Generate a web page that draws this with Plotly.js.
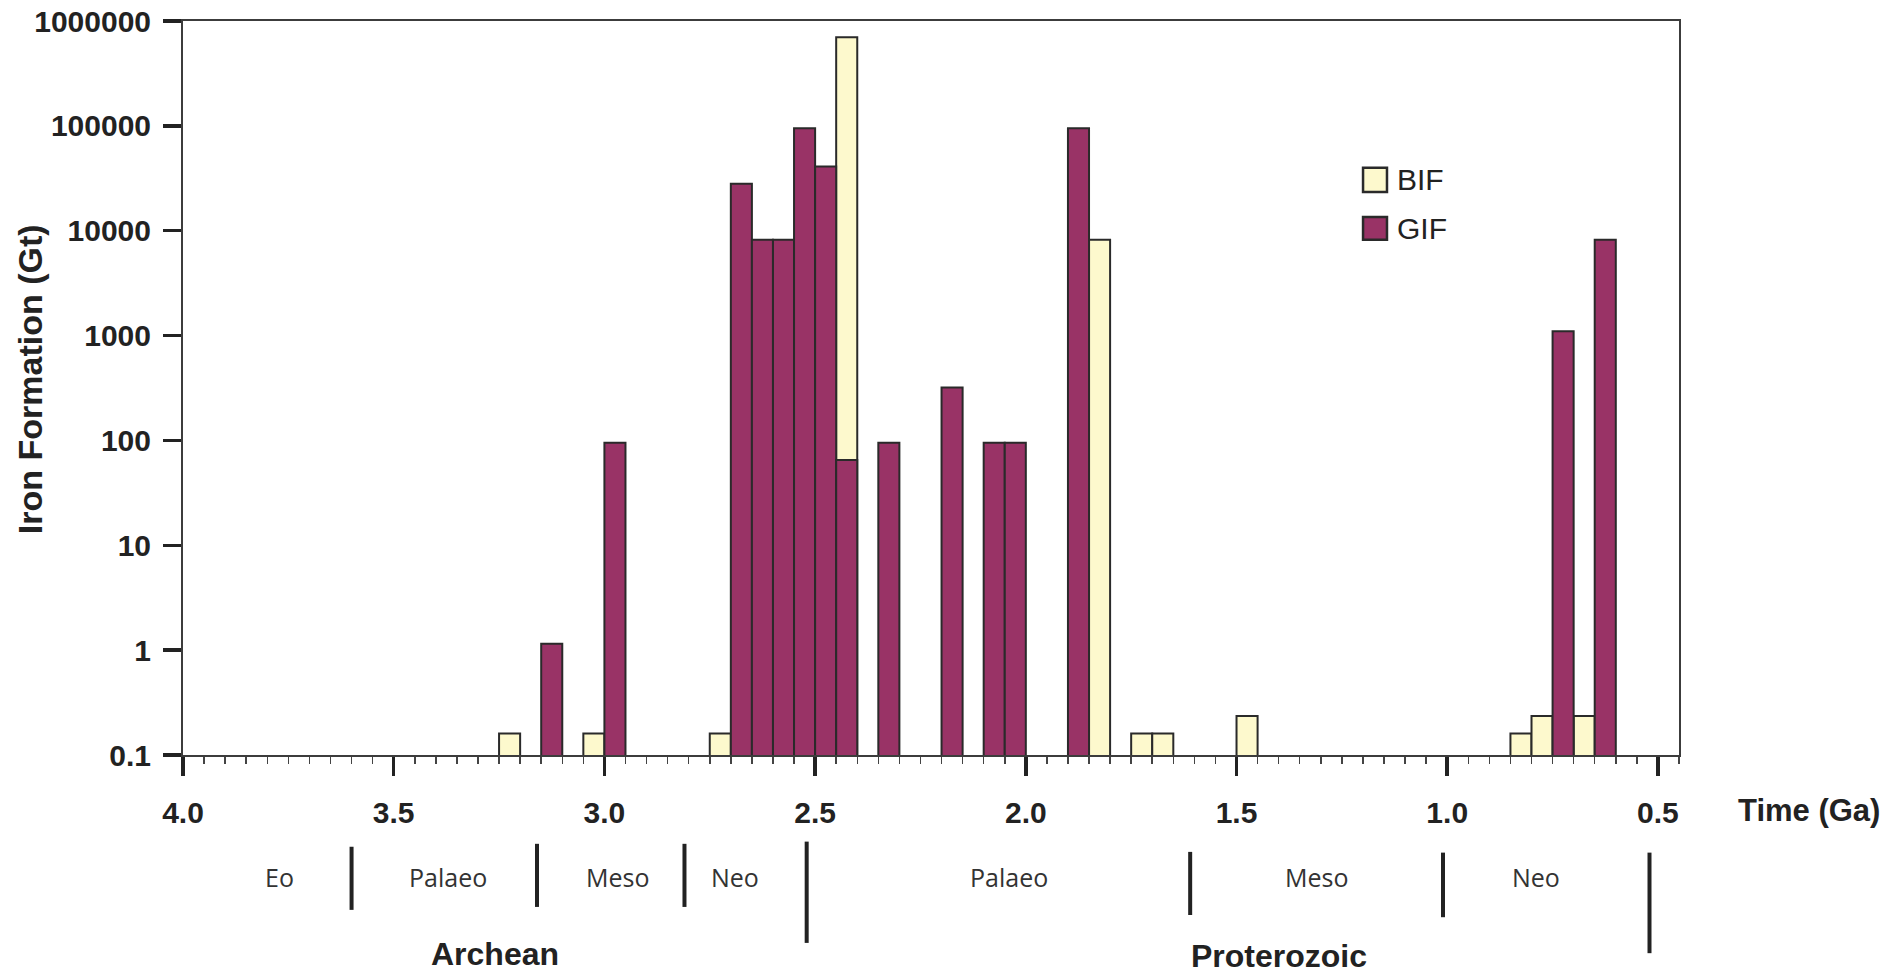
<!DOCTYPE html>
<html>
<head>
<meta charset="utf-8">
<script src="https://cdn.plot.ly/plotly-3.0.1.min.js"></script>
<style>
  html, body { margin: 0; padding: 0; background: #ffffff; }
  #chart { width: 1887px; height: 977px; }
</style>
</head>
<body>
<div id="chart"></div>
<script>
// ---- Data ----
// Bin centres in Ga (each bin is 0.05 Ga wide)
const bifAge = [3.225, 3.025, 2.725, 2.425, 1.825, 1.725, 1.675, 1.475, 0.825, 0.775, 0.675];
const bifGt  = [0.16, 0.16, 0.16, 700000, 8200, 0.16, 0.16, 0.235, 0.16, 0.235, 0.235];

const gifAge = [3.125, 2.975, 2.675, 2.625, 2.575, 2.525, 2.475, 2.425, 2.325, 2.175, 2.075, 2.025, 1.875, 0.725, 0.625];
const gifGt  = [1.15, 95, 28000, 8200, 8200, 95000, 41000, 65, 95, 320, 95, 95, 95000, 1100, 8200];

const seriesNames = ['BIF', 'GIF'];

const xTickVals = [4.0, 3.5, 3.0, 2.5, 2.0, 1.5, 1.0, 0.5];
const xTickText = ['4.0', '3.5', '3.0', '2.5', '2.0', '1.5', '1.0', '0.5'];
const yTickVals = [0.1, 1, 10, 100, 1000, 10000, 100000, 1000000];
const yTickText = ['0.1', '1', '10', '100', '1000', '10000', '100000', '1000000'];

// Geological time divisions (Ga)
const eraBoundaries = [3.6, 3.16, 2.81, 2.52, 1.61, 1.01, 0.52];
const eraNames = ['Eo', 'Palaeo', 'Meso', 'Neo', 'Palaeo', 'Meso', 'Neo'];
const eraMid   = [3.77, 3.37, 2.97, 2.69, 2.04, 1.31, 0.79];
const eonNames = ['Archean', 'Proterozoic'];
const eonMid   = [3.26, 1.40];

// ---- Styling ----
const BIF_COLOR = '#fdf9cd';
const GIF_COLOR = '#993366';
const EDGE = '#2a2a2a';
const BOLD_FONT = 'Liberation Sans, Arial, Helvetica, sans-serif';
const BIN_WIDTH = 0.05;

const traces = [
  {
    type: 'bar', name: seriesNames[0], x: bifAge, y: bifGt, width: BIN_WIDTH,
    marker: { color: BIF_COLOR, line: { color: EDGE, width: 2 } },
    showlegend: false, hoverinfo: 'x+y+name'
  },
  {
    type: 'bar', name: seriesNames[1], x: gifAge, y: gifGt, width: BIN_WIDTH,
    marker: { color: GIF_COLOR, line: { color: EDGE, width: 2 } },
    showlegend: false, hoverinfo: 'x+y+name'
  }
];

const shapes = [];
const annotations = [];

// Era separator bars below the axis (long bars at eon boundaries)
const sepExtent = {
  3.6:  [-0.125, -0.211],
  3.16: [-0.121, -0.207],
  2.81: [-0.121, -0.207],
  2.52: [-0.118, -0.256],
  1.61: [-0.132, -0.218],
  1.01: [-0.133, -0.221],
  0.52: [-0.133, -0.270]
};
eraBoundaries.forEach(b => {
  const ext = sepExtent[b];
  shapes.push({
    type: 'line', xref: 'x', yref: 'paper', x0: b, x1: b, y0: ext[0], y1: ext[1],
    line: { color: '#222', width: 4 }
  });
});

eraNames.forEach((n, i) => {
  annotations.push({
    text: n, xref: 'x', yref: 'paper', x: eraMid[i], y: -0.166,
    xanchor: 'center', yanchor: 'middle', showarrow: false,
    font: { family: 'Open Sans, Noto Sans, sans-serif', size: 25, color: '#333' }
  });
});

eonNames.forEach((n, i) => {
  annotations.push({
    text: n, xref: 'x', yref: 'paper', x: eonMid[i], y: i === 0 ? -0.2715 : -0.2735,
    xanchor: 'center', yanchor: 'middle', showarrow: false, borderpad: 0,
    font: { family: BOLD_FONT, size: 32, weight: 'bold', color: '#222' }
  });
});

// Axis titles
annotations.push({
  text: 'Iron Formation (Gt)', xref: 'paper', yref: 'paper', x: -0.1023, y: 0.512,
  xanchor: 'center', yanchor: 'middle', textangle: -90, showarrow: false,
  font: { family: BOLD_FONT, size: 34, weight: 'bold', color: '#222' }
});
annotations.push({
  text: 'Time (Ga)', xref: 'paper', yref: 'paper', x: 1.038, y: -0.075,
  xanchor: 'left', yanchor: 'middle', showarrow: false,
  font: { family: BOLD_FONT, size: 31, weight: 'bold', color: '#222' }
});

// Legend (drawn box + label, matching the reference's large square keys)
const legendColors = [BIF_COLOR, GIF_COLOR];
const legendY = [[0.767, 0.800], [0.702, 0.733]];
seriesNames.forEach((n, i) => {
  shapes.push({
    type: 'rect', xref: 'paper', yref: 'paper', x0: 0.7888, x1: 0.8048,
    y0: legendY[i][0], y1: legendY[i][1],
    fillcolor: legendColors[i], line: { color: EDGE, width: 2.5 }
  });
  annotations.push({
    text: n, xref: 'paper', yref: 'paper', x: 0.8100, y: (legendY[i][0] + legendY[i][1]) / 2,
    xanchor: 'left', yanchor: 'middle', showarrow: false,
    font: { family: 'Liberation Sans, Arial, sans-serif', size: 30, color: '#222' }
  });
});

const layout = {
  width: 1887, height: 977,
  margin: { l: 183, r: 208, t: 21, b: 222, pad: 0 },
  paper_bgcolor: '#ffffff', plot_bgcolor: '#ffffff',
  barmode: 'overlay',
  showlegend: false,
  xaxis: {
    range: [4.0, 0.45],
    tickmode: 'array', tickvals: xTickVals, ticktext: xTickText,
    ticks: 'outside', ticklen: 19, tickwidth: 3.5, tickcolor: '#222',
    ticklabelstandoff: 11,
    minor: { tickmode: 'linear', tick0: 0, dtick: 0.05, ticks: 'outside', ticklen: 7, tickwidth: 1.5, tickcolor: '#444', showgrid: false },
    showline: true, linecolor: '#3c3c3c', linewidth: 2, mirror: true,
    showgrid: false, zeroline: false,
    tickfont: { family: BOLD_FONT, size: 30, weight: 'bold', color: '#222' }
  },
  yaxis: {
    type: 'log', range: [-1, 6],
    tickmode: 'array', tickvals: yTickVals, ticktext: yTickText,
    ticks: 'outside', ticklen: 18, tickwidth: 3.5, tickcolor: '#222',
    ticklabelstandoff: 6,
    showline: true, linecolor: '#3c3c3c', linewidth: 2, mirror: true,
    showgrid: false, zeroline: false,
    tickfont: { family: BOLD_FONT, size: 30, weight: 'bold', color: '#222' }
  },
  shapes: shapes,
  annotations: annotations
};

Plotly.newPlot('chart', traces, layout, { displayModeBar: false, staticPlot: true });
</script>
</body>
</html>
